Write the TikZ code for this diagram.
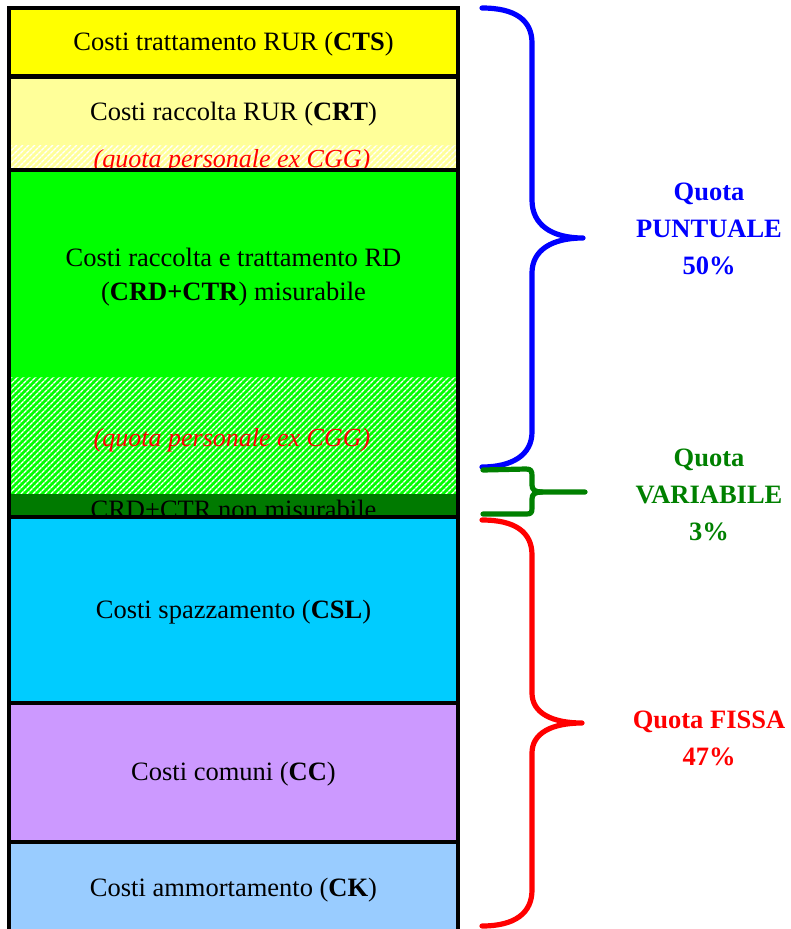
\documentclass[tikz,border=0pt]{standalone}
\usepackage{fontspec}
\setmainfont{Liberation Serif}
\usetikzlibrary{patterns.meta}
\definecolor{cyel}{HTML}{FFFF00}
\definecolor{cpyel}{HTML}{FFFF99}
\definecolor{cgreen}{HTML}{00FF00}
\definecolor{cdgreen}{HTML}{007A00}
\definecolor{ccyan}{HTML}{00CCFF}
\definecolor{cpurp}{HTML}{CC99FF}
\definecolor{clblue}{HTML}{99CCFF}
\definecolor{tgreen}{HTML}{008000}
\tikzset{
  costtext/.style={font=\fontsize{26.5}{30}\selectfont, anchor=base, inner sep=0pt},
  extext/.style={font=\fontsize{26}{30}\selectfont\itshape, text=red, anchor=base, inner sep=0pt},
  quotatext/.style={font=\fontsize{26.5}{30}\selectfont\bfseries, anchor=base, inner sep=0pt},
  hatch/.style={pattern={Lines[angle=45,distance=4pt,line width=1.6pt]}, pattern color=white},
  divider/.style={line width=4.5pt},
  bracestyle/.style={line width=5.2pt, line cap=round, line join=round},
}
\begin{document}
\begin{tikzpicture}[x=1pt,y=-1pt]
\useasboundingbox (0,0) rectangle (790,929);
\clip (0,0) rectangle (790,929);
% fills
\fill[cyel] (9,8) rectangle (458,76.5);
\fill[cpyel] (9,76.5) rectangle (458,170);
\fill[hatch] (9,145) rectangle (458,170);
\fill[cgreen] (9,170) rectangle (458,377);
\fill[cgreen] (9,377) rectangle (458,494);
\fill[hatch] (9,377) rectangle (458,494);
\fill[cdgreen] (9,494) rectangle (458,517);
\fill[ccyan] (9,517) rectangle (458,703);
\fill[cpurp] (9,703) rectangle (458,842);
\fill[clblue] (9,842) rectangle (458,940);
% texts
\node[costtext] (cts) at (233.5,50) {Costi trattamento RUR (\textbf{CTS})};
\node[costtext] (crt) at (233.5,120) {Costi raccolta RUR (\textbf{CRT})};
\begin{scope}
\clip (9,140) rectangle (458,168);
\node[extext] (ex1) at (232,167) {(quota personale ex CGG)};
\end{scope}
\node[costtext] (rd1) at (233.5,266) {Costi raccolta e trattamento RD};
\node[costtext] (rd2) at (233.5,300) {(\textbf{CRD+CTR}) misurabile};
\node[extext] (ex2) at (232,446) {(quota personale ex CGG)};
\begin{scope}
\clip (9,490) rectangle (458,516);
\node[costtext] (nm) at (233.5,518) {CRD+CTR non misurabile};
\end{scope}
\node[costtext] (csl) at (233.5,618) {Costi spazzamento (\textbf{CSL})};
\node[costtext] (cc) at (233.5,780) {Costi comuni (\textbf{CC})};
\node[costtext] (ck) at (233.5,896) {Costi ammortamento (\textbf{CK})};
% dividers and border
\draw[divider] (9,76.5) -- (458,76.5);
\draw[divider] (9,170) -- (458,170);
\draw[divider] (9,517) -- (458,517);
\draw[divider] (9,703) -- (458,703);
\draw[divider] (9,842) -- (458,842);
\draw[line width=4.5pt] (9,940) -- (9,8) -- (458,8) -- (458,940);
% braces
\draw[bracestyle, blue] (482,8) .. controls (515,8) and (532,20) .. (532,43) -- (532,200)
  .. controls (532,225) and (552,238) .. (583,238)
  .. controls (552,238) and (532,250) .. (532,273) -- (532,432)
  .. controls (532,455) and (512,467) .. (482,467);
\draw[bracestyle, tgreen] (483,470) -- (526,469) .. controls (531,469) and (532,471) .. (532,476) -- (532,485)
  .. controls (532,490) and (535,492) .. (542,492) -- (585,492);
\draw[bracestyle, tgreen] (542,492) .. controls (535,492) and (532,494) .. (532,499) -- (532,508)
  .. controls (532,513) and (531,514) .. (526,514) -- (483,514);
\draw[bracestyle, red] (482,520) .. controls (515,520) and (532,532) .. (532,555) -- (532,693)
  .. controls (532,713) and (552,723) .. (582,723)
  .. controls (552,723) and (532,733) .. (532,753) -- (532,890)
  .. controls (532,913) and (515,926) .. (482,926);
% quota labels
\node[quotatext, text=blue] (qp1) at (709,200) {Quota};
\node[quotatext, text=blue] (qp2) at (709,237) {PUNTUALE};
\node[quotatext, text=blue] (qp3) at (709,274) {50\%};
\node[quotatext, text=tgreen] (qv1) at (709,466) {Quota};
\node[quotatext, text=tgreen] (qv2) at (709,503) {VARIABILE};
\node[quotatext, text=tgreen] (qv3) at (709,540) {3\%};
\node[quotatext, text=red] (qf1) at (709,728) {Quota FISSA};
\node[quotatext, text=red] (qf2) at (709,765) {47\%};
\end{tikzpicture}
\end{document}
